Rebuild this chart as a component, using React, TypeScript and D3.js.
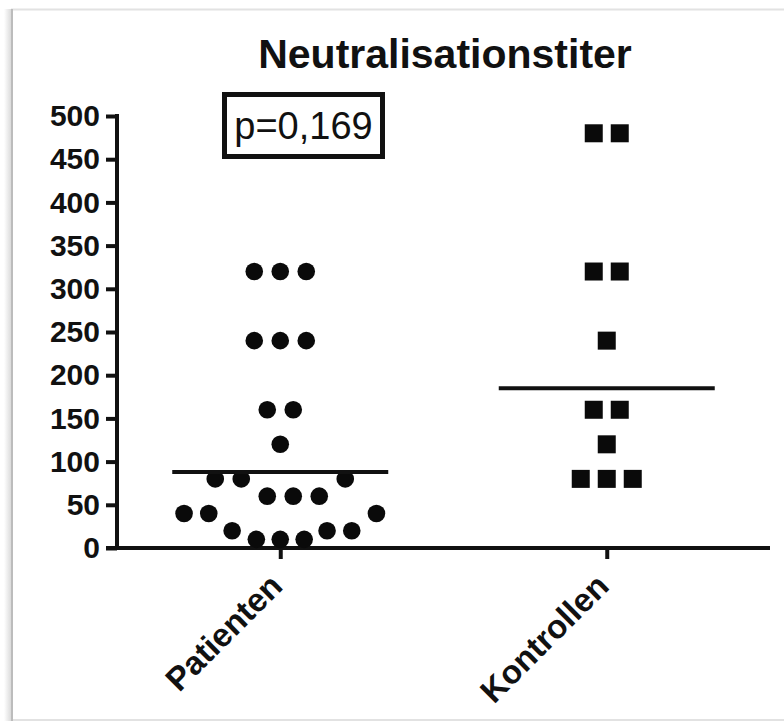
import React, { useRef, useEffect } from 'react';
import * as d3 from 'd3';

// data
const categories = ['Patienten', 'Kontrollen'];
const patientenValues = [320, 320, 320, 240, 240, 240, 160, 160, 120, 80, 80, 80, 60, 60, 60, 40, 40, 40, 20, 20, 20, 10, 10, 10];
// horizontal spread of each point, in marker slots (as drawn in the scatter)
const patientenSpread = [-1, 0, 1, -1, 0, 1, -0.5, 0.5, 0, -2.5, -1.5, 2.5, -0.5, 0.5, 1.5, -3.7, -2.75, 3.7, -1.85, 1.8, 2.75, -0.92, 0, 0.92];
const kontrollenValues = [480, 480, 320, 320, 240, 160, 160, 120, 80, 80, 80];
const kontrollenSpread = [-0.5, 0.5, -0.5, 0.5, 0, -0.5, 0.5, 0, -1, 0, 1];
const centerLines = [88, 185];
const yTicks = [0, 50, 100, 150, 200, 250, 300, 350, 400, 450, 500];
const title = 'Neutralisationstiter';
const pLabel = 'p=0,169';

const W = 784;
const H = 722;
const FONT = '"Liberation Sans", Arial, Helvetica, sans-serif';

export default function App() {
  const ref = useRef<SVGSVGElement>(null);

  useEffect(() => {
    const svg = d3.select(ref.current);
    svg.selectAll('*').remove();

    const x = d3.scalePoint<string>().domain(categories).range([117, 770]).padding(0.5);
    const y = d3.scaleLinear().domain([0, 500]).range([548, 116]);
    const slot = 26;

    // frame with a soft shadow on the left
    const defs = svg.append('defs');
    const grad = defs.append('linearGradient').attr('id', 'shadowL').attr('x1', 0).attr('x2', 1);
    grad.append('stop').attr('offset', 0).attr('stop-color', '#fff');
    grad.append('stop').attr('offset', 1).attr('stop-color', '#d6d6d6');
    svg.append('rect').attr('x', 0).attr('y', 0).attr('width', W).attr('height', H).attr('fill', '#fff');
    svg.append('rect').attr('x', 4).attr('y', 9).attr('width', 8).attr('height', 712).attr('fill', 'url(#shadowL)');
    svg.append('rect')
      .attr('x', 12).attr('y', 9.5).attr('width', 800).attr('height', 710.5)
      .attr('fill', '#fff').attr('stroke', '#e2e2e2').attr('stroke-width', 2);
    svg.append('line').attr('x1', 12).attr('x2', 12).attr('y1', 9).attr('y2', 721)
      .attr('stroke', '#bcbcbc').attr('stroke-width', 2);

    // title
    svg.append('text')
      .attr('x', 445).attr('y', 68)
      .attr('text-anchor', 'middle')
      .style('font-family', FONT).style('font-size', '41px').style('font-weight', 'bold')
      .attr('fill', '#111')
      .text(title);

    // y axis
    const yAxis = svg.append('g')
      .attr('transform', `translate(${x.range()[0]},0)`)
      .call(d3.axisLeft(y).tickValues(yTicks).tickSize(11).tickSizeOuter(0).tickPadding(6));
    yAxis.select('.domain').attr('stroke', '#111').attr('stroke-width', 4).attr('d', `M0,${y(500) - 2}V${y(0) + 2}`);
    yAxis.selectAll('.tick line').attr('stroke', '#111').attr('stroke-width', 4);
    yAxis.selectAll('.tick text')
      .attr('fill', '#111')
      .style('font-family', FONT).style('font-size', '30px').style('font-weight', 'bold');

    // x axis
    const xAxis = svg.append('g')
      .attr('transform', `translate(0,${y(0)})`)
      .call(d3.axisBottom(x).tickSize(11).tickSizeOuter(0).tickFormat(() => ''));
    xAxis.select('.domain').attr('stroke', '#111').attr('stroke-width', 4).attr('d', `M${x.range()[0] - 11},0H${x.range()[1]}`);
    xAxis.selectAll('.tick line').attr('stroke', '#111').attr('stroke-width', 4);

    svg.append('g').selectAll('text')
      .data(categories)
      .enter()
      .append('text')
      .attr('transform', d => `translate(${(x(d) as number) + 4},${y(0) + 40}) rotate(-45)`)
      .attr('text-anchor', 'end')
      .attr('fill', '#111')
      .style('font-family', FONT).style('font-size', '33px').style('font-weight', 'bold')
      .text(d => d);

    // Patienten: circles
    const px = x('Patienten') as number;
    svg.append('g').selectAll('circle')
      .data(patientenValues)
      .enter()
      .append('circle')
      .attr('cx', (d, i) => px + patientenSpread[i] * slot)
      .attr('cy', d => y(d))
      .attr('r', 8.8)
      .attr('fill', '#0a0a0a');

    // Kontrollen: squares
    const kx = x('Kontrollen') as number;
    const sq = 18;
    svg.append('g').selectAll('rect')
      .data(kontrollenValues)
      .enter()
      .append('rect')
      .attr('x', (d, i) => kx + kontrollenSpread[i] * slot - sq / 2)
      .attr('y', d => y(d) - sq / 2)
      .attr('width', sq)
      .attr('height', sq)
      .attr('fill', '#0a0a0a');

    // center lines
    svg.append('g').selectAll('line')
      .data(categories)
      .enter()
      .append('line')
      .attr('x1', d => (x(d) as number) - 108)
      .attr('x2', d => (x(d) as number) + 108)
      .attr('y1', (d, i) => y(centerLines[i]))
      .attr('y2', (d, i) => y(centerLines[i]))
      .attr('stroke', '#111')
      .attr('stroke-width', 4);

    // p-value box
    const pb = svg.append('g');
    pb.append('rect')
      .attr('x', 224.5).attr('y', 94.5).attr('width', 158).attr('height', 62)
      .attr('fill', '#fff').attr('stroke', '#111').attr('stroke-width', 5);
    pb.append('text')
      .attr('x', 303.5).attr('y', 139)
      .attr('text-anchor', 'middle')
      .attr('fill', '#111')
      .style('font-family', FONT).style('font-size', '38px')
      .text(pLabel);
  }, []);

  return (
    <svg ref={ref} width={W} height={H} style={{ position: 'absolute', left: 0, top: 0, display: 'block' }} />
  );
}
